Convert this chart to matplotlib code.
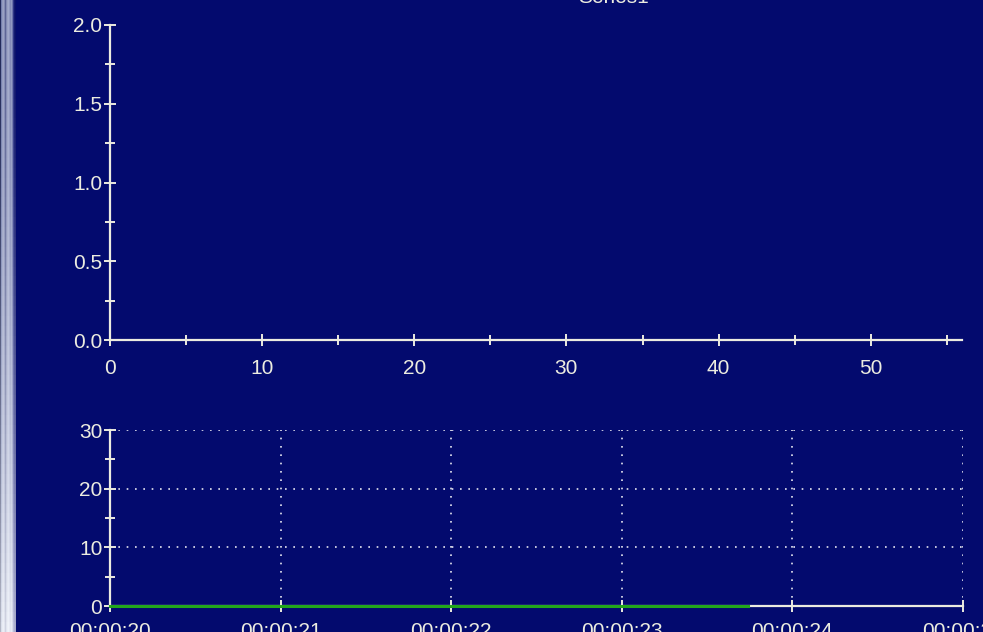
import numpy as np
import matplotlib
matplotlib.use("Agg")
import matplotlib.pyplot as plt
from matplotlib.ticker import MultipleLocator, FuncFormatter

# Upper panel: empty series on a 0..56 x range
top_xlim = (0, 56)
top_ylim = (0.0, 2.0)
top_title = "Series1"

# Lower panel: recorded values over time (seconds)
times = [20.0, 20.5, 21.0, 21.5, 22.0, 22.5, 23.0, 23.5, 23.74]
values = [0, 0, 0, 0, 0, 0, 0, 0, 0]
bottom_xlim = (20, 25)
bottom_ylim = (0, 30)

BG = "#030a6e"
FG = "#ecece0"
GREEN = "#22a81c"

plt.rcParams["font.family"] = ["Liberation Sans", "DejaVu Sans"]

fig = plt.figure(figsize=(9.83, 6.32), dpi=100, facecolor=BG)
W, H = 983, 632


def frac(x0, y0, x1, y1):
    return [x0 / W, 1 - y1 / H, (x1 - x0) / W, (y1 - y0) / H]


# window frame strip on the left edge
frame = fig.add_axes([0, 0, 16 / W, 1])
frame.set_axis_off()
cols = np.array([
    [40, 50, 90], [150, 165, 200], [190, 200, 225], [200, 210, 230],
    [170, 180, 210], [120, 130, 170], [170, 180, 210], [200, 210, 230],
    [210, 220, 240], [190, 200, 225], [170, 180, 215], [190, 200, 230],
    [140, 150, 200], [60, 70, 150], [20, 30, 120], [8, 15, 110],
], dtype=float) / 255.0
rows = np.linspace(0, 1, 64)[:, None, None]
top_tint = cols * 0.75 + np.array([0.05, 0.05, 0.35]) * 0.25
bot_tint = cols * 0.35 + 0.65
img = top_tint[None, :, :] * (1 - rows ** 1.5) + bot_tint[None, :, :] * rows ** 1.5
img = np.clip(img, 0, 1)
frame.imshow(img, aspect="auto", extent=[0, 1, 0, 1], origin="upper")
frame.set_xlim(0, 1)
frame.set_ylim(0, 1)


def style_axes(ax):
    ax.set_facecolor(BG)
    for s in ("top", "right"):
        ax.spines[s].set_visible(False)
    for s in ("left", "bottom"):
        ax.spines[s].set_color(FG)
        ax.spines[s].set_linewidth(1.6)
    ax.tick_params(which="both", direction="inout", colors=FG,
                   labelcolor=FG, labelsize=15, width=1.4)
    ax.tick_params(which="major", length=9)
    ax.tick_params(which="minor", length=7)
    ax.tick_params(axis="y", pad=1)


# upper chart
ax1 = fig.add_axes(frac(110, 25, 962, 340))
style_axes(ax1)
ax1.set_xlim(*top_xlim)
ax1.set_ylim(*top_ylim)
ax1.xaxis.set_major_locator(MultipleLocator(10))
ax1.xaxis.set_minor_locator(MultipleLocator(5))
ax1.yaxis.set_major_locator(MultipleLocator(0.5))
ax1.yaxis.set_minor_locator(MultipleLocator(0.25))
ax1.yaxis.set_major_formatter(FuncFormatter(lambda v, p: f"{v:.1f}"))
ax1.tick_params(axis="x", pad=9)
fig.text(613 / W, 1 - 3 / H, top_title, color=FG, fontsize=15,
         ha="center", va="baseline")

# lower chart
ax2 = fig.add_axes(frac(110, 430, 963, 606))
style_axes(ax2)
ax2.set_xlim(*bottom_xlim)
ax2.set_ylim(*bottom_ylim)
ax2.xaxis.set_major_locator(MultipleLocator(1))
ax2.yaxis.set_major_locator(MultipleLocator(10))
ax2.yaxis.set_minor_locator(MultipleLocator(5))
ax2.xaxis.set_major_formatter(
    FuncFormatter(lambda v, p: "00:00:%02d" % int(round(v))))
ax2.grid(True, which="major", color="white", linestyle=(0, (1, 4)),
         linewidth=1.2, alpha=0.9)
ax2.set_axisbelow(True)
ax2.tick_params(axis="x", pad=7)
ax2.plot(times, values, color=GREEN, linewidth=2.2, clip_on=False, zorder=5)

fig.savefig("out.png", dpi=100, facecolor=BG)
